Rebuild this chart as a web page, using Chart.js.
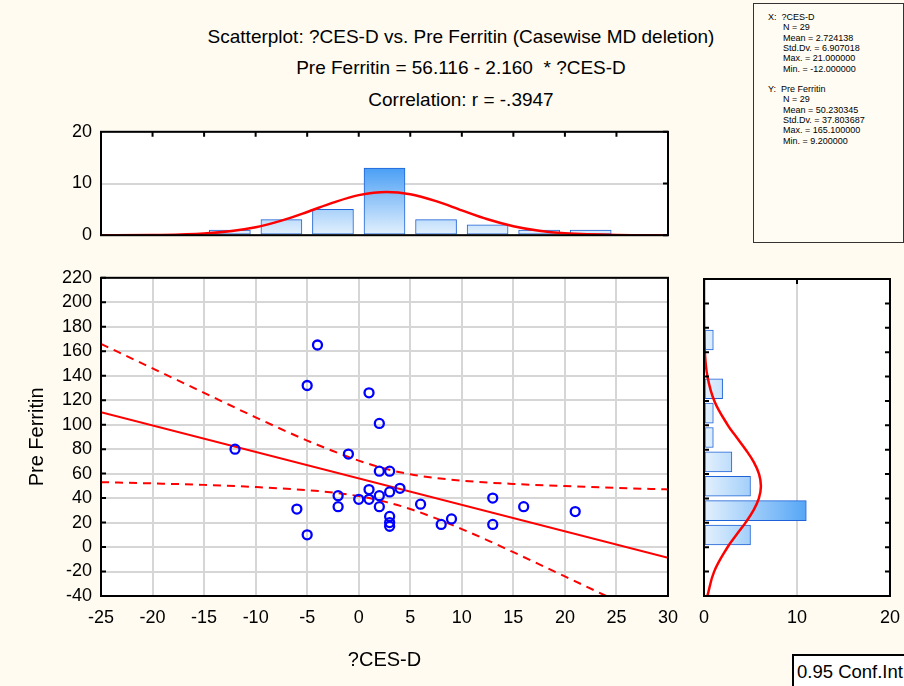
<!DOCTYPE html>
<html>
<head>
<meta charset="utf-8">
<script src="https://cdn.jsdelivr.net/npm/chart.js@4.4.0/dist/chart.umd.min.js"></script>
<style>
  html, body { margin: 0; padding: 0; background: #fffbf0; }
  body { width: 904px; height: 686px; position: relative; overflow: hidden;
         font-family: "Liberation Sans", Arial, sans-serif; color: #000; }
  canvas { position: absolute; }
  .title { position: absolute; left: 0; width: 922px; text-align: center; font-size: 19px; line-height: 22px; }
  .stats { position: absolute; left: 753px; top: 3px; width: 149px; height: 238px;
           border: 1px solid #333; background: #fffcf3; font-size: 9px; line-height: 10.3px; }
  .stats div { position: absolute; white-space: pre; }
  .conf { position: absolute; left: 792px; top: 654px; width: 120px; height: 40px;
          border: 2px solid #000; background: #fff; font-size: 18.5px; }
  .conf span { position: absolute; left: 3px; top: 5px; white-space: nowrap; }
</style>
</head>
<body>
<div class="title" style="top:26px">Scatterplot: ?CES-D vs. Pre Ferritin (Casewise MD deletion)</div>
<div class="title" style="top:57px">Pre Ferritin = 56.116 - 2.160&nbsp;&nbsp;* ?CES-D</div>
<div class="title" style="top:89px">Correlation: r = -.3947</div>

<div class="stats" id="stats"></div>
<div class="conf"><span>0.95 Conf.Int</span></div>

<canvas id="topHist" width="680" height="143" style="left:0;top:112px"></canvas>
<canvas id="scatter" width="689" height="428" style="left:0;top:258px"></canvas>
<canvas id="rightHist" width="223" height="421" style="left:688px;top:265px"></canvas>

<script>
// ?CES-D (x) and Pre Ferritin (y) for the 29 cases
const cesd = [-4, -5, 1, 2, -1, 2, 3, 4, 3, 1, -2, 0, 1, 2, -2, 2, -6, -5, 3, 3, 3, 6, 8, 9, 13, 13, 16, 21, -12];
const ferritin = [165.1, 132, 126, 101, 76, 62, 62, 48, 45, 47, 42, 39, 39, 42, 33, 33, 31, 10, 25, 20, 17, 35, 18.5, 23, 40, 18.5, 33, 29, 80];

// fit line and 0.95 confidence band
const fitX = [-25, 30];
const fitY = [110.1, -8.7];
const bandX = [-25, -20, -15, -10, -5, -2.5, 0, 2.7, 5, 7.5, 10, 12.5, 15, 20, 25, 30];
const bandUpper = [166, 146, 126, 106, 87, 78.5, 70.6, 63.7, 59.5, 56.4, 54.3, 52.7, 51.6, 49.8, 48.3, 47.1];
const bandLower = [53, 52, 50.8, 49, 46.5, 44.5, 41.6, 36.7, 31.1, 23.4, 14.7, 5.5, -4.2, -24, -44, -64.5];

// top histogram (?CES-D), bins of width 5
const cesdBins = [-12.5, -7.5, -2.5, 2.5, 7.5, 12.5, 17.5, 22.5];
const cesdCounts = [1, 3, 5, 13, 3, 2, 1, 1];
const cesdCurveX = [-25, -20, -15, -10, -7.5, -5, -2.5, 0, 2.7, 5, 7.5, 10, 12.5, 15, 17.5, 20, 25, 30];
const cesdCurveY = [0, 0.04, 0.31, 1.54, 2.81, 4.49, 6.3, 7.75, 8.38, 7.94, 6.6, 4.81, 3.08, 1.73, 0.85, 0.37, 0.05, 0];

// right histogram (Pre Ferritin), bins of width 20
const ferrBins = [10, 30, 50, 70, 90, 110, 130, 170];
const ferrCounts = [5, 11, 5, 3, 1, 1, 2, 1];
const ferrCurveY = [-40, -20, 0, 10, 20, 30, 40, 50, 60, 70, 80, 90, 100, 120, 140, 160, 180, 220];
const ferrCurveX = [0.36, 1.09, 2.53, 3.47, 4.45, 5.3, 5.9, 6.12, 5.92, 5.34, 4.49, 3.52, 2.57, 1.11, 0.37, 0.09, 0.02, 0];

const statsLines = [
    ['X:  ?CES-D', 14], ['N = 29', 29], ['Mean = 2.724138', 29], ['Std.Dv. = 6.907018', 29],
    ['Max. = 21.000000', 29], ['Min. = -12.000000', 29], ['', 0],
    ['Y:  Pre Ferritin', 14], ['N = 29', 29], ['Mean = 50.230345', 29], ['Std.Dv. = 37.803687', 29],
    ['Max. = 165.100000', 29], ['Min. = 9.200000', 29]
];

const box = document.getElementById('stats');
statsLines.forEach(([t, left], i) => {
    if (!t) return;
    const d = document.createElement('div');
    d.textContent = t;
    d.style.left = left + 'px';
    d.style.top = (8 + i * 10.3) + 'px';
    box.appendChild(d);
});

const FONT = { family: '"Liberation Sans", Arial, sans-serif', size: 18 };
const GRID = '#d6d6d6';

// white plot area, black frame, short inward ticks on the frame edges
const framePlugin = {
    id: 'frame',
    beforeDraw(chart) {
        const { ctx, chartArea: a } = chart;
        ctx.save();
        ctx.fillStyle = '#fff';
        ctx.fillRect(a.left, a.top, a.right - a.left, a.bottom - a.top);
        ctx.restore();
    },
    afterDraw(chart, args, opts) {
        const { ctx, chartArea: a, scales } = chart;
        ctx.save();
        ctx.strokeStyle = '#000';
        ctx.lineWidth = 2;
        ctx.strokeRect(a.left, a.top, a.right - a.left, a.bottom - a.top);
        const len = 5;
        ctx.beginPath();
        (opts.xTicks || []).forEach(side => {
            scales.x.ticks.forEach(t => {
                const px = scales.x.getPixelForValue(t.value);
                const y0 = side === 'top' ? a.top : a.bottom;
                ctx.moveTo(px, y0);
                ctx.lineTo(px, side === 'top' ? y0 + len : y0 - len);
            });
        });
        (opts.yTicks || []).forEach(side => {
            const sc = scales.y;
            const vals = opts.yValues || sc.ticks.map(t => t.value);
            vals.forEach(v => {
                const py = sc.getPixelForValue(v);
                const x0 = side === 'left' ? a.left : a.right;
                ctx.moveTo(x0, py);
                ctx.lineTo(side === 'left' ? x0 + len : x0 - len, py);
            });
        });
        ctx.stroke();
        ctx.restore();
    }
};

const pairs = (xs, ys) => xs.map((x, i) => ({ x: x, y: ys[i] }));

Chart.defaults.font.family = FONT.family;
Chart.defaults.color = '#000';

// main scatterplot
new Chart(document.getElementById('scatter'), {
    type: 'scatter',
    data: {
        datasets: [
            {
                data: pairs(cesd, ferritin),
                borderColor: '#0000ff',
                backgroundColor: 'rgba(0,0,0,0)',
                borderWidth: 2.3,
                pointRadius: 4.5,
                order: 0
            },
            {
                type: 'line',
                data: pairs(fitX, fitY),
                borderColor: '#ff0000',
                borderWidth: 2,
                pointRadius: 0,
                order: 1
            },
            {
                type: 'line',
                data: pairs(bandX, bandUpper),
                borderColor: '#ff0000',
                borderWidth: 2,
                borderDash: [8, 6],
                pointRadius: 0,
                cubicInterpolationMode: 'monotone',
                order: 1
            },
            {
                type: 'line',
                data: pairs(bandX, bandLower),
                borderColor: '#ff0000',
                borderWidth: 2,
                borderDash: [8, 6],
                pointRadius: 0,
                cubicInterpolationMode: 'monotone',
                order: 1
            }
        ]
    },
    options: {
        responsive: false,
        animation: false,
        devicePixelRatio: 1,
        layout: { padding: 0 },
        plugins: {
            legend: { display: false }, tooltip: { enabled: false },
            frame: { yTicks: ['left'] }
        },
        scales: {
            x: {
                type: 'linear', min: -25, max: 30,
                ticks: { stepSize: 5, font: FONT, padding: 11, autoSkip: false, maxRotation: 0 },
                grid: { color: GRID, lineWidth: 2, drawTicks: false },
                border: { display: false },
                title: { display: true, text: '?CES-D', font: { size: 20 }, padding: { bottom: 14 } },
                afterFit(s) { s.height = 90; }
            },
            y: {
                type: 'linear', min: -40, max: 220,
                ticks: { stepSize: 20, font: FONT, padding: 9, autoSkip: false },
                grid: { color: GRID, lineWidth: 2, drawTicks: false },
                border: { display: false },
                title: { display: true, text: 'Pre Ferritin', font: { size: 20 }, padding: { top: 25 } },
                afterFit(s) { s.width = 101; }
            }
        }
    },
    plugins: [framePlugin]
});

// top histogram
new Chart(document.getElementById('topHist'), {
    type: 'bar',
    data: {
        datasets: [
            {
                type: 'line',
                data: pairs(cesdCurveX, cesdCurveY),
                borderColor: '#ff0000',
                borderWidth: 2.5,
                pointRadius: 0,
                cubicInterpolationMode: 'monotone',
                order: 0
            },
            {
                data: pairs(cesdBins, cesdCounts),
                barThickness: 41,
                borderColor: '#1d62d6',
                borderWidth: 1,
                borderSkipped: false,
                backgroundColor(c) {
                    const ch = c.chart;
                    if (!ch.chartArea) return '#9ccbf7';
                    const y = ch.scales.y;
                    const g = ch.ctx.createLinearGradient(0, y.getPixelForValue(0), 0, y.getPixelForValue(13));
                    g.addColorStop(0, '#e4f1fd');
                    g.addColorStop(1, '#4a9ff5');
                    return g;
                },
                order: 1
            }
        ]
    },
    options: {
        responsive: false,
        animation: false,
        devicePixelRatio: 1,
        layout: { padding: { top: 0, right: 12, left: 0, bottom: 0 } },
        plugins: {
            legend: { display: false }, tooltip: { enabled: false },
            frame: { xTicks: ['top'], yTicks: ['right'] }
        },
        scales: {
            x: {
                type: 'linear', min: -25, max: 30, display: false, offset: false,
                grid: { offset: false }, ticks: { stepSize: 5 }
            },
            y: {
                type: 'linear', min: 0, max: 20,
                ticks: { stepSize: 10, font: FONT, padding: 9, autoSkip: false },
                grid: { color: GRID, lineWidth: 2, drawTicks: false },
                border: { display: false },
                afterFit(s) { s.width = 101; }
            }
        }
    },
    plugins: [framePlugin]
});

// right histogram
new Chart(document.getElementById('rightHist'), {
    type: 'bar',
    data: {
        datasets: [
            {
                type: 'line',
                data: pairs(ferrCurveX, ferrCurveY),
                borderColor: '#ff0000',
                borderWidth: 2.5,
                pointRadius: 0,
                tension: 0.4,
                order: 0
            },
            {
                data: pairs(ferrCounts, ferrBins),
                barThickness: 20,
                borderColor: '#1d62d6',
                borderWidth: 1,
                borderSkipped: false,
                backgroundColor(c) {
                    const ch = c.chart;
                    if (!ch.chartArea) return '#9ccbf7';
                    const x = ch.scales.x;
                    const g = ch.ctx.createLinearGradient(x.getPixelForValue(0), 0, x.getPixelForValue(11), 0);
                    g.addColorStop(0, '#e4f1fd');
                    g.addColorStop(1, '#55a6f6');
                    return g;
                },
                order: 1
            }
        ]
    },
    options: {
        indexAxis: 'y',
        responsive: false,
        animation: false,
        devicePixelRatio: 1,
        layout: { padding: { top: 14, right: 0, left: 0, bottom: 0 } },
        plugins: {
            legend: { display: false }, tooltip: { enabled: false },
            frame: { yTicks: ['left', 'right'], xTicks: ['top'] }
        },
        scales: {
            x: {
                type: 'linear', min: 0, max: 20,
                ticks: { stepSize: 10, font: FONT, padding: 11, autoSkip: false, maxRotation: 0 },
                grid: { color: GRID, lineWidth: 2, drawTicks: false },
                border: { display: false },
                afterFit(s) { s.height = 90; }
            },
            y: {
                type: 'linear', min: -40, max: 220, display: false, offset: false,
                grid: { offset: false }, ticks: { stepSize: 20 }
            }
        }
    },
    plugins: [framePlugin]
});
</script>
</body>
</html>
